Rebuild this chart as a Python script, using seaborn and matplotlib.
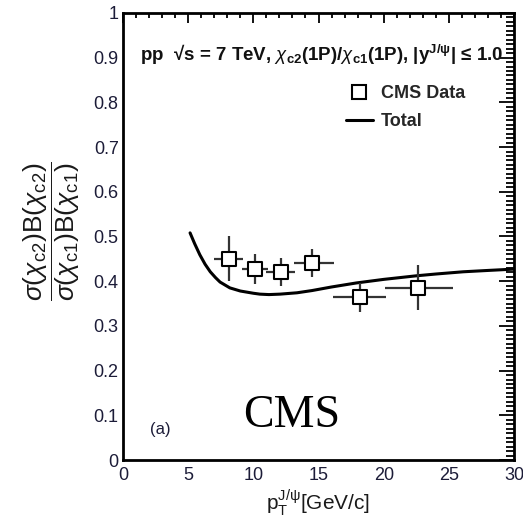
import matplotlib
matplotlib.use("Agg")
import matplotlib.pyplot as plt
import seaborn as sns
import pandas as pd
from matplotlib.ticker import MultipleLocator, FixedLocator, FixedFormatter
from matplotlib.lines import Line2D

# CMS chi_c2 / chi_c1 ratio measurement
pt_center = [8.1, 10.1, 12.1, 14.5, 18.2, 22.6]
pt_low = [7.0, 9.1, 11.0, 13.1, 16.1, 20.1]
pt_high = [9.2, 11.1, 13.2, 16.2, 20.2, 25.3]
ratio = [0.450, 0.427, 0.421, 0.441, 0.365, 0.385]
ratio_up = [0.501, 0.461, 0.452, 0.472, 0.396, 0.436]
ratio_down = [0.400, 0.394, 0.389, 0.409, 0.331, 0.336]

# Total theory prediction
theory_pt = [5.15, 5.5, 5.9, 6.3, 6.7, 7.1, 7.45, 8.2, 9.0, 10.0, 10.5, 11.2,
             12.05, 13.35, 14.5, 16.0, 17.9, 20.0, 22.5, 24.0, 26.1, 28.0, 30.0]
theory_ratio = [0.508, 0.484, 0.459, 0.438, 0.421, 0.408, 0.398, 0.385, 0.378,
                0.373, 0.371, 0.370, 0.371, 0.374, 0.379, 0.387, 0.396, 0.404,
                0.412, 0.416, 0.421, 0.424, 0.427]

x_ticks = [0, 5, 10, 15, 20, 25, 30]
y_ticks = [0, 0.1, 0.2, 0.3, 0.4, 0.5, 0.6, 0.7, 0.8, 0.9, 1.0]
y_tick_labels = ["0", "0.1", "0.2", "0.3", "0.4", "0.5", "0.6", "0.7", "0.8", "0.9", "1"]

sns.set_theme(style="white")
plt.rcParams["font.family"] = ["Liberation Sans", "DejaVu Sans"]
plt.rcParams["mathtext.fontset"] = "custom"
plt.rcParams["mathtext.rm"] = "Liberation Sans"
plt.rcParams["mathtext.it"] = "Liberation Sans:italic"
plt.rcParams["mathtext.bf"] = "Liberation Sans:bold"
plt.rcParams["mathtext.sf"] = "Liberation Sans"

data = pd.DataFrame({"pt": pt_center, "ratio": ratio})
theory = pd.DataFrame({"pt": theory_pt, "ratio": theory_ratio})

fig = plt.figure(figsize=(5.23, 5.16), dpi=100)
ax = fig.add_axes([0.235, 0.1085, 0.748, 0.8665])

sns.lineplot(data=theory, x="pt", y="ratio", ax=ax, color="black", lw=2.2,
             label="Total", legend=False, zorder=2)

xerr = [[c - l for c, l in zip(pt_center, pt_low)],
        [h - c for c, h in zip(pt_center, pt_high)]]
yerr = [[r - d for r, d in zip(ratio, ratio_down)],
        [u - r for r, u in zip(ratio, ratio_up)]]
ax.errorbar(pt_center, ratio, xerr=xerr, yerr=yerr, fmt="none",
            ecolor="#333333", elinewidth=1.6, capsize=0, zorder=3)
sns.scatterplot(data=data, x="pt", y="ratio", ax=ax, marker="s", s=90,
                facecolor="white", edgecolor="black", linewidth=1.5,
                legend=False, zorder=4)

ax.set_xlim(0, 30)
ax.set_ylim(0, 1)

tick_color = "#1c1c38"
ax.xaxis.set_major_locator(FixedLocator(x_ticks))
ax.xaxis.set_minor_locator(MultipleLocator(1))
ax.yaxis.set_major_locator(FixedLocator(y_ticks))
ax.yaxis.set_major_formatter(FixedFormatter(y_tick_labels))
ax.yaxis.set_minor_locator(MultipleLocator(0.01))
ax.tick_params(which="both", direction="in", top=True, right=True,
               colors="black", labelcolor=tick_color, labelsize=13, width=1.3)
ax.xaxis.set_tick_params(which="major", length=7.5, pad=5)
ax.xaxis.set_tick_params(which="minor", length=3.8)
ax.yaxis.set_tick_params(which="major", length=11, pad=3)
ax.yaxis.set_tick_params(which="minor", length=5.5)
for s in ax.spines.values():
    s.set_linewidth(2)
    s.set_color("black")

ax.set_xlabel(r"p$_{\mathrm{T}}^{\mathrm{J/\psi}}$[GeV/c]", fontsize=15, color="#1a1a1a")
ax.xaxis.set_label_coords(0.5, -0.06)
ax.set_ylabel(r"$\dfrac{\sigma(\chi_{\mathrm{c2}})\mathrm{B}(\chi_{\mathrm{c2}})}"
              r"{\sigma(\chi_{\mathrm{c1}})\mathrm{B}(\chi_{\mathrm{c1}})}$",
              fontsize=19, color="#1a1a1a")
ax.yaxis.set_label_coords(-0.105, 0.512)

ax.text(0.043, 0.906,
        r"pp  √s = 7 TeV, $\chi_{\mathbf{c2}}$(1P)/$\chi_{\mathbf{c1}}$(1P), "
        r"|y$^{\mathbf{J/\psi}}$| ≤ 1.0",
        transform=ax.transAxes, fontsize=13.5, fontweight="bold",
        ha="left", va="center", color="#111111")

handles = [Line2D([], [], marker="s", ls="none", markersize=10,
                  markerfacecolor="white", markeredgecolor="black", markeredgewidth=1.5),
           Line2D([], [], color="black", lw=2.2)]
ax.legend(handles, ["CMS Data", "Total"], loc="upper left",
          bbox_to_anchor=(0.547, 0.858), frameon=False, borderpad=0,
          handlelength=1.5, handletextpad=0.45, labelspacing=0.6,
          prop={"weight": "bold", "size": 13})

ax.text(0.069, 0.069, "(a)", transform=ax.transAxes, fontsize=12,
        ha="left", va="center", color=tick_color)
ax.text(0.307, 0.074, "CMS", transform=ax.transAxes, fontsize=33,
        family="Liberation Serif", ha="left", va="baseline", color="black")

fig.savefig("out.png", dpi=100)
